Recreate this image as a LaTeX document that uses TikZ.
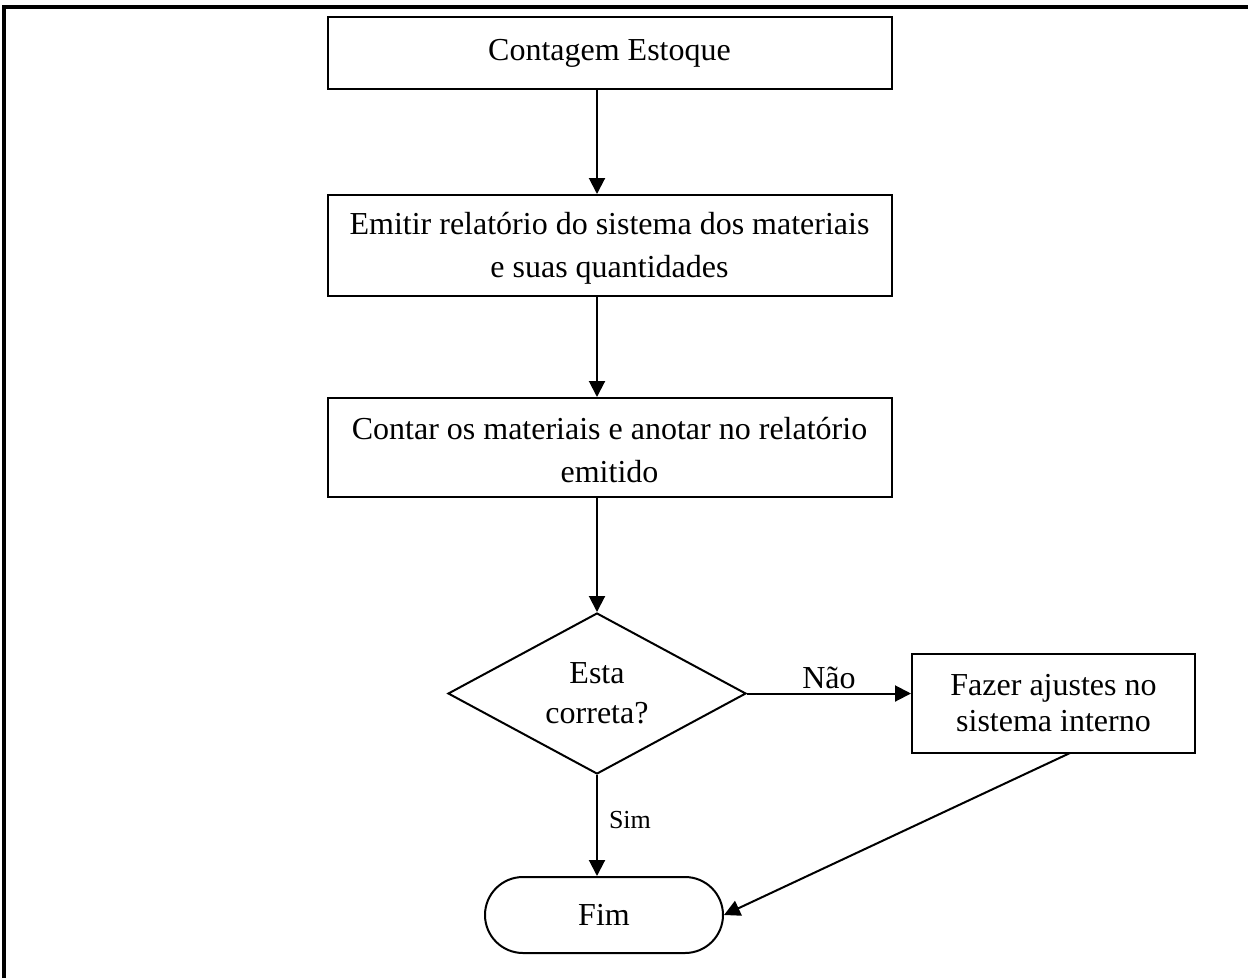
\documentclass[tikz,border=0pt]{standalone}
\usepackage{fontspec}
\setmainfont{Liberation Serif}
\usetikzlibrary{shapes.geometric,shapes.misc,arrows.meta}
\begin{document}
\begin{tikzpicture}[x=1pt,y=-1pt,
  every node/.style={font=\fontsize{32}{43}\selectfont, align=center, inner sep=0pt},
  procbox/.style={draw, line width=2pt, rectangle},
  decision/.style={draw, line width=2pt, diamond, aspect=1.85, minimum width=298pt, minimum height=161pt},
  terminal/.style={draw, line width=2pt, rounded rectangle, minimum width=238pt, minimum height=76pt},
  flow/.style={line width=2pt, -{Triangle[length=16pt,width=16pt]}},
  lbl/.style={font=\fontsize{32}{38}\selectfont},
  smalllbl/.style={font=\fontsize{26}{30}\selectfont}
]
\useasboundingbox (0,0) rectangle (1248,978);

% page frame
\draw[line width=3.5pt] (4,978) -- (4,7) -- (1250,7);

% process steps
\node[procbox, minimum width=564pt, minimum height=72pt] (count) at (609.5,53) {Contagem Estoque};
\node[procbox, minimum width=564pt, minimum height=101pt] (report) at (609.5,245.5) {};
\node[procbox, minimum width=564pt, minimum height=99pt] (tally) at (609.5,447.5) {};
\node (reportText) at ([yshift=-3pt]report.center)
  {Emitir relatório do sistema dos materiais\\e suas quantidades};
\node (tallyText) at ([yshift=-3pt]tally.center)
  {Contar os materiais e anotar no relatório\\emitido};

% decision
\node[decision, font=\fontsize{32}{40}\selectfont] (check) at (597,693.5) {Esta\\correta?};

% adjustment step
\node[procbox, minimum width=283pt, minimum height=99pt, font=\fontsize{32}{36}\selectfont] (adjust) at (1053.5,703.5)
  {Fazer ajustes no\\sistema interno};

% end
\node[terminal] (end) at (604,915) {Fim};

% connectors
\draw[flow] (count.south -| check.north) -- (report.north -| check.north);
\draw[flow] (report.south -| check.north) -- (tally.north -| check.north);
\draw[flow] (tally.south -| check.north) -- (check.north);
\draw[flow] (check.east) -- (check.east -| adjust.west)
  node[pos=0.5, above=4pt, lbl] (no) {Não};
\draw[flow] (check.south) -- (check.south |- end.north)
  node[pos=0.45, right=11pt, smalllbl] (yes) {Sim};
\coordinate (adjOut) at (1070,753);
\draw[flow] (adjOut) -- (end.east);
\end{tikzpicture}
\end{document}
